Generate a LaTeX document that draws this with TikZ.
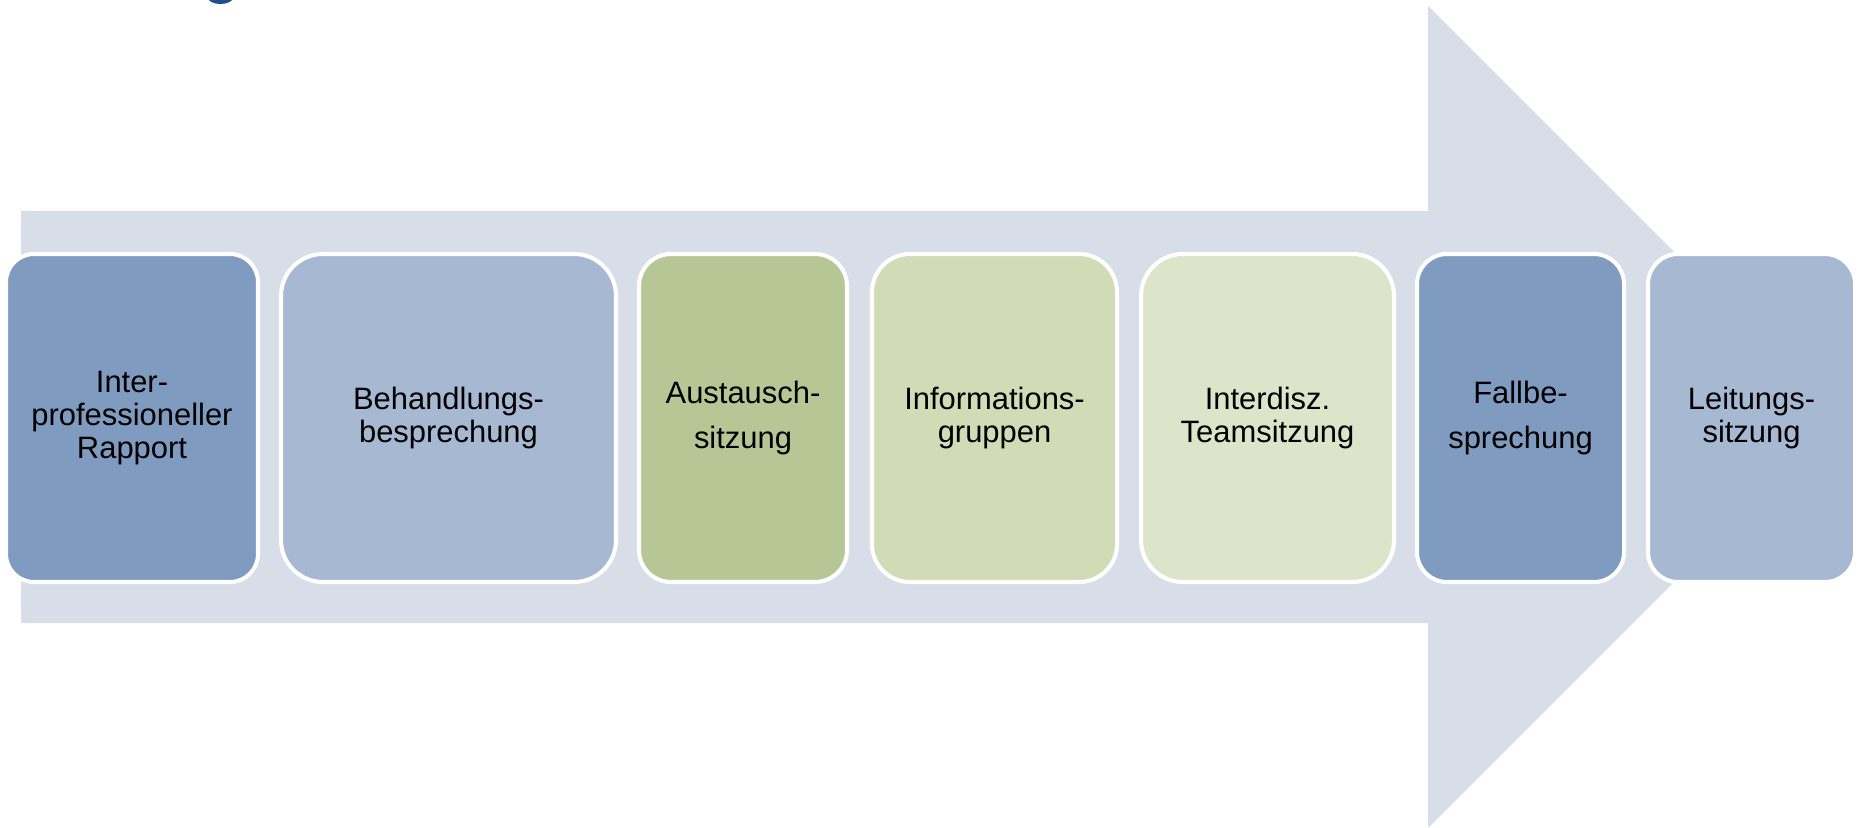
\documentclass[tikz,border=0pt]{standalone}
\usepackage{fontspec}
\setmainfont{Liberation Sans}
\definecolor{pfeil}{HTML}{D8DEE8}
\definecolor{blauA}{HTML}{7F9BBF}
\definecolor{blauB}{HTML}{A7B9D2}
\definecolor{gruenA}{HTML}{B6C795}
\definecolor{gruenB}{HTML}{D1DBB5}
\definecolor{gruenC}{HTML}{DDE4CA}
\definecolor{titel}{HTML}{1F4E88}
\tikzset{phase/.style={draw=white, line width=1.15pt, inner sep=0pt, align=center,
  minimum height=3.28cm, font=\fontsize{8.8}{9.4}\selectfont}}

\begin{document}
\begin{tikzpicture}
\useasboundingbox (0,0) rectangle (18.6,8.27);
\fill[titel] (2.205,8.30) ellipse [x radius=0.13, y radius=0.07];
% breiter Pfeil dahinter
\fill[pfeil] (0.21,2.04) -- (0.21,6.16) -- (14.28,6.16) -- (14.28,8.21)
  -- (18.39,4.10) -- (14.28,-0.01) -- (14.28,2.04) -- cycle;
% die Sitzungen
\node[phase, fill=blauA, minimum width=2.52cm, rounded corners=0.28cm] (rapport) at (1.32,4.09) {Inter-\\professioneller\\Rapport};
\node[phase, fill=blauB, minimum width=3.35cm, rounded corners=0.42cm] (behandlung) at (4.485,4.09) {Behandlungs-\\besprechung};
\node[phase, fill=gruenA, minimum width=2.08cm, rounded corners=0.32cm] (austausch) at (7.43,4.09) {Austausch-\\[3.6pt]sitzung};
\node[phase, fill=gruenB, minimum width=2.45cm, rounded corners=0.38cm] (info) at (9.945,4.09) {Informations-\\gruppen};
\node[phase, fill=gruenC, minimum width=2.53cm, rounded corners=0.42cm] (team) at (12.675,4.09) {Interdisz.\\Teamsitzung};
\node[phase, fill=blauA, minimum width=2.07cm, rounded corners=0.30cm] (fall) at (15.205,4.09) {Fallbe-\\[3.6pt]sprechung};
\node[phase, fill=blauB, minimum width=2.07cm, rounded corners=0.30cm] (leitung) at (17.515,4.09) {Leitungs-\\sitzung};
\end{tikzpicture}
\end{document}
